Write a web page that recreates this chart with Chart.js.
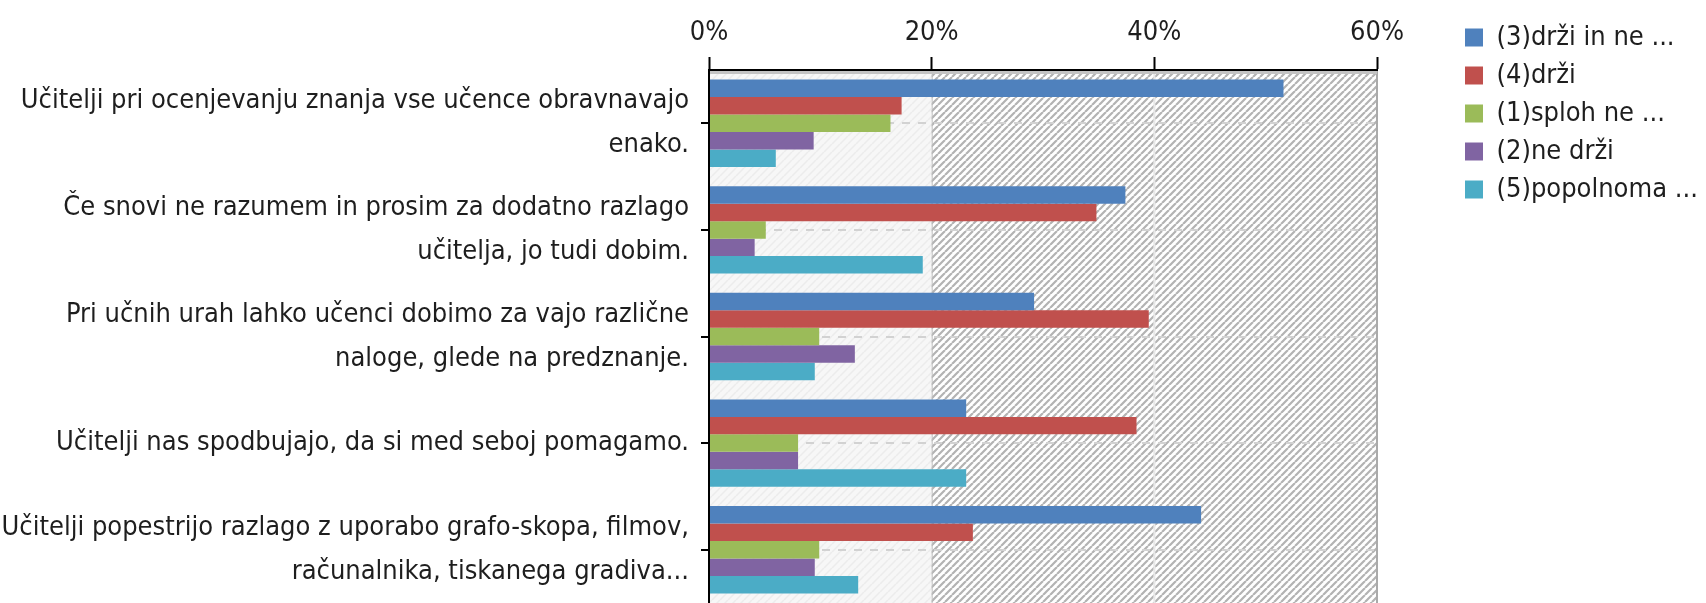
<!DOCTYPE html>
<html>
<head>
<meta charset="utf-8">
<script src="https://cdn.jsdelivr.net/npm/chart.js@4/dist/chart.umd.min.js"></script>
<style>
  html, body { margin: 0; padding: 0; background: #fff; }
  #wrap { width: 1706px; height: 603px; }
</style>
</head>
<body>
<div id="wrap"><canvas id="barChart"></canvas></div>
<script>
const categories = [
  ["Učitelji pri ocenjevanju znanja vse učence obravnavajo", "enako."],
  ["Če snovi ne razumem in prosim za dodatno razlago", "učitelja, jo tudi dobim."],
  ["Pri učnih urah lahko učenci dobimo za vajo različne", "naloge, glede na predznanje."],
  ["Učitelji nas spodbujajo, da si med seboj pomagamo."],
  ["Učitelji popestrijo razlago z uporabo grafo-skopa, filmov,", "računalnika, tiskanega gradiva..."]
];
const seriesNames = ["(3)drži in ne ...", "(4)drži", "(1)sploh ne ...", "(2)ne drži", "(5)popolnoma ..."];
const drziInNe = [51.6, 37.4, 29.2, 23.1, 44.2];
const drzi = [17.3, 34.8, 39.5, 38.4, 23.7];
const splohNe = [16.3, 5.1, 9.9, 8.0, 9.9];
const neDrzi = [9.4, 4.1, 13.1, 8.0, 9.5];
const popolnoma = [6.0, 19.2, 9.5, 23.1, 13.4];
const xTicks = [0, 20, 40, 60];

const colors = ["#4f81bd", "#c0504d", "#9bbb59", "#8064a2", "#4bacc6"];
const values = [drziInNe, drzi, splohNe, neDrzi, popolnoma];

const FONT = "'DejaVu Sans Condensed', 'Liberation Sans Narrow', 'DejaVu Sans', sans-serif";
Chart.defaults.font.family = FONT;
Chart.defaults.font.size = 27;
Chart.defaults.color = "#1e1e1e";

// diagonal hatch tile, "/" direction
function makePattern(bg, line, step, width) {
  const c = document.createElement("canvas");
  c.width = step; c.height = step;
  const g = c.getContext("2d");
  g.fillStyle = bg;
  g.fillRect(0, 0, step, step);
  g.strokeStyle = line;
  g.lineWidth = width;
  g.beginPath();
  for (let k = -1; k <= 1; k++) {
    g.moveTo(k * step, step);
    g.lineTo(k * step + step, 0);
  }
  g.stroke();
  return g.createPattern(c, "repeat");
}

const background = {
  id: "background",
  beforeDraw(chart) {
    const { ctx, chartArea: a, scales: { x } } = chart;
    const x0 = x.getPixelForValue(0);
    const x20 = x.getPixelForValue(20);
    const x40 = x.getPixelForValue(40);
    const x60 = x.getPixelForValue(60);
    ctx.save();
    ctx.fillStyle = makePattern("#f7f7f7", "#ececec", 8, 1.5);
    ctx.fillRect(x0, a.top, x20 - x0, a.bottom - a.top);
    ctx.fillStyle = makePattern("#ffffff", "#b3b3b3", 7, 2.2);
    ctx.fillRect(x20, a.top, x60 - x20, a.bottom - a.top);
    ctx.fillStyle = "#e8e8e8";
    ctx.fillRect(x40 - 1, a.top, 2, a.bottom - a.top);
    ctx.fillStyle = "#bdbdbd";
    ctx.fillRect(x20, a.top, 1, a.bottom - a.top);
    ctx.fillStyle = "#aaaaaa";
    ctx.fillRect(x60 - 1, a.top, 2, a.bottom - a.top);
    ctx.fillStyle = "#c4c4c4";
    ctx.fillRect(x0, a.top + 1, x60 - x0, 3);
    ctx.restore();
  },
  afterLayout(chart) {
    // push the legend out towards the right edge like the original
    const lg = chart.legend;
    const dx = 1454 - lg.left;
    lg.left += dx; lg.right += dx;
    lg.top = 13;
    lg.bottom = lg.top + lg.height;
  }
};

new Chart(document.getElementById("barChart"), {
  type: "bar",
  data: {
    labels: categories,
    datasets: seriesNames.map((name, i) => ({
      label: name,
      data: values[i],
      backgroundColor: colors[i],
      borderWidth: 0,
      barPercentage: 1,
      categoryPercentage: 0.82
    }))
  },
  options: {
    indexAxis: "y",
    responsive: true,
    maintainAspectRatio: false,
    animation: false,
    layout: { padding: 0 },
    scales: {
      x: {
        position: "top",
        min: 0,
        max: 60,
        afterBuildTicks(s) { s.ticks = xTicks.map(v => ({ value: v })); },
        afterFit(s) { s.height = 70; s.paddingRight = 329; s.paddingLeft = 0; },
        ticks: { padding: 8, callback: v => v + "%", color: "#1e1e1e" },
        grid: { drawOnChartArea: false, tickLength: 13, tickColor: "#000", tickWidth: 2 },
        border: { color: "#000", width: 2, z: 1 }
      },
      y: {
        afterFit(s) { s.width = 709; s.paddingTop = 0; s.paddingBottom = 0; },
        ticks: { padding: 12, font: { lineHeight: 1.63 }, color: "#1e1e1e" },
        grid: {
          offset: false,
          color: "#d2d2d2",
          lineWidth: 2,
          tickLength: 8,
          tickColor: "#000",
          tickWidth: 2,
          tickBorderDash: [1, 0]
        },
        border: { color: "#000", width: 2, dash: [8, 8], z: 1 }
      }
    },
    plugins: {
      legend: {
        position: "right",
        align: "start",
        labels: { boxWidth: 18, boxHeight: 18, padding: 11, color: "#1e1e1e" }
      },
      tooltip: { enabled: false }
    }
  },
  plugins: [background]
});
</script>
</body>
</html>
